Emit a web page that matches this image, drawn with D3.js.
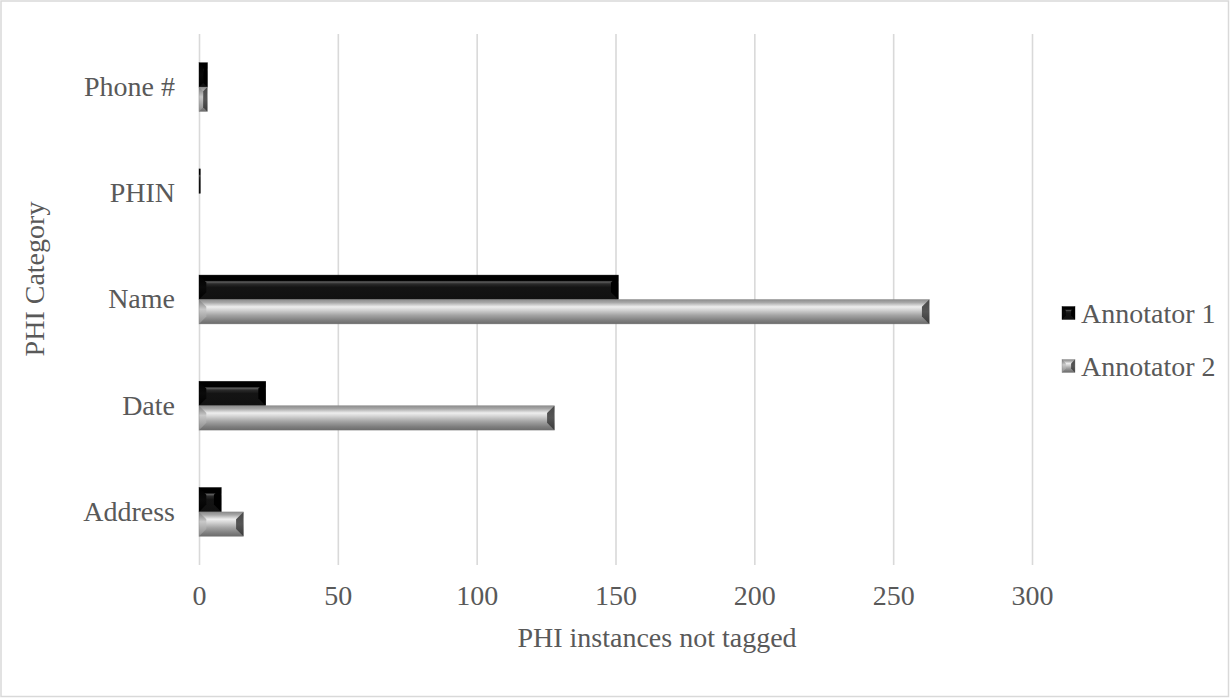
<!DOCTYPE html>
<html>
<head>
<meta charset="utf-8">
<script src="https://cdn.jsdelivr.net/npm/d3@7"></script>
<style>
  html, body { margin: 0; padding: 0; background: #fff; }
  svg { display: block; }
  text { font-family: "Liberation Serif", "Times New Roman", serif; fill: #595959; }
</style>
</head>
<body>
<svg id="chart" width="1230" height="698"></svg>
<script>
const categories = ["Phone #", "PHIN", "Name", "Date", "Address"];
const seriesNames = ["Annotator 1", "Annotator 2"];
const annotator1 = [3, 0.5, 151, 24, 8];
const annotator2 = [3, 0, 263, 128, 16];
const xTicks = [0, 50, 100, 150, 200, 250, 300];
const xTitle = "PHI instances not tagged";
const yTitle = "PHI Category";

const W = 1230, H = 698;
const FS = 28;
const svg = d3.select("#chart");

// border
svg.append("rect").attr("x", 1).attr("y", 1).attr("width", W - 2.5).attr("height", H - 2.5)
  .attr("fill", "#fff").attr("stroke", "#d9d9d9").attr("stroke-width", 1.5);

const plot = { left: 199, right: 1032, top: 34, bottom: 565 };

const x = d3.scaleLinear().domain([0, 300]).range([plot.left, plot.right]);
const y = d3.scaleBand().domain(categories).range([plot.top, plot.bottom])
  .paddingInner(0.54).paddingOuter(0.27);
const ySub = d3.scaleBand().domain(seriesNames).range([0, y.bandwidth()]);

// gradients
const defs = svg.append("defs");
function grad(id, stops) {
  const g = defs.append("linearGradient").attr("id", id)
    .attr("x1", 0).attr("y1", 0).attr("x2", 0).attr("y2", 1);
  stops.forEach(s => g.append("stop").attr("offset", s[0]).attr("stop-color", s[1]));
}
grad("g1", [[0, "#000"], [0.22, "#000"], [0.28, "#606060"], [0.36, "#2a2a2a"], [0.5, "#141414"], [1, "#111"]]);
grad("g2", [[0, "#8c8c8c"], [0.12, "#a6a6a6"], [0.3, "#eeeeee"], [0.42, "#d6d6d6"], [0.65, "#a3a3a3"], [0.85, "#808080"], [1, "#6b6b6b"]]);
grad("g1l", [[0, "#000"], [0.5, "#0a0a0a"], [1, "#000"]]);
grad("g1r", [[0, "#000"], [0.5, "#000"], [1, "#000"]]);
grad("g2l", [[0, "#7a7a7a"], [0.4, "#c8c8c8"], [1, "#8a8a8a"]]);
grad("g2r", [[0, "#4a4a4a"], [0.5, "#555"], [1, "#3a3a3a"]]);

// gridlines via axis
const xAxis = d3.axisBottom(x).tickValues(xTicks).tickSize(-(plot.bottom - plot.top)).tickPadding(20);
const gx = svg.append("g").attr("transform", `translate(0,${plot.bottom})`).call(xAxis);
gx.select(".domain").remove();
gx.selectAll(".tick line").attr("stroke", "#d9d9d9").attr("stroke-width", 1.6);
gx.selectAll(".tick text").attr("font-size", FS).attr("fill", "#595959").attr("dy", "0.71em");

// y axis labels
const yAxis = d3.axisLeft(y).tickSize(0).tickPadding(24);
const gy = svg.append("g").attr("transform", `translate(${plot.left},0)`).call(yAxis);
gy.select(".domain").remove();
gy.selectAll(".tick text").attr("font-size", FS).attr("fill", "#595959");

// bars
const data = [];
categories.forEach((c, i) => {
  data.push({ cat: c, s: seriesNames[0], v: annotator1[i], k: 1 });
  data.push({ cat: c, s: seriesNames[1], v: annotator2[i], k: 2 });
});

function drawBar(g, x0, y0, w, h, k) {
  if (w <= 0) return;
  const b = Math.min(h * 0.3, w / 2);
  g.append("rect").attr("x", x0).attr("y", y0).attr("width", w).attr("height", h)
    .attr("fill", `url(#g${k})`);
  if (w > 3) {
    g.append("polygon").attr("points", [[x0, y0], [x0 + b, y0 + b], [x0 + b, y0 + h - b], [x0, y0 + h]].join(" "))
      .attr("fill", `url(#g${k}l)`);
    g.append("polygon").attr("points", [[x0 + w, y0], [x0 + w - b, y0 + b], [x0 + w - b, y0 + h - b], [x0 + w, y0 + h]].join(" "))
      .attr("fill", `url(#g${k}r)`);
  }
  g.append("rect").attr("x", x0).attr("y", y0).attr("width", w).attr("height", h)
    .attr("fill", "none").attr("stroke", k === 1 ? "#000" : "#7f7f7f").attr("stroke-width", 0.6).attr("stroke-opacity", 0.6);
}

const gb = svg.append("g");
data.forEach(d => {
  const x0 = x(0), w = x(d.v) - x(0);
  const y0 = y(d.cat) + ySub(d.s), h = ySub.bandwidth();
  drawBar(gb, x0, y0, w, h, d.k);
});

// legend
const leg = svg.append("g");
const legY = [313, 366];
seriesNames.forEach((s, i) => {
  drawBar(leg, 1062, legY[i] - 6.5, 13, 13, i + 1);
  leg.append("text").attr("x", 1081).attr("y", legY[i]).attr("dy", "0.35em")
    .attr("font-size", FS).text(s);
});

// titles
svg.append("text").attr("x", (plot.left + 1115) / 2).attr("y", 647).attr("text-anchor", "middle")
  .attr("font-size", FS).text(xTitle);
svg.append("text").attr("transform", "translate(44,279) rotate(-90)").attr("text-anchor", "middle")
  .attr("font-size", FS).text(yTitle);
</script>
</body>
</html>
